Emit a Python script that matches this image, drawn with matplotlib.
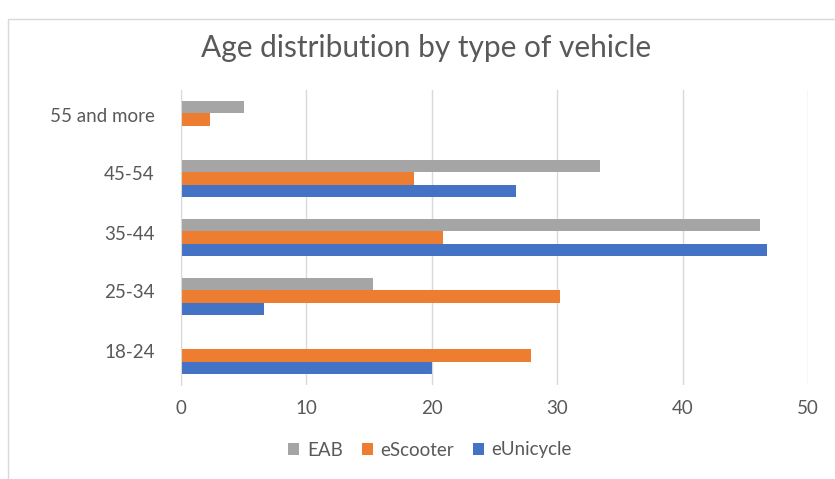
import matplotlib.pyplot as plt
import matplotlib.transforms as mtransforms
import numpy as np
from matplotlib.patches import Rectangle

# Age groups (bottom to top) and the share per vehicle type
age_groups = ['18-24', '25-34', '35-44', '45-54', '55 and more']
eab = [0, 15.3, 46.2, 33.4, 5.0]
escooter = [27.9, 30.2, 20.9, 18.6, 2.3]
eunicycle = [20.0, 6.6, 46.7, 26.7, 0]

grey = '#a5a5a5'
orange = '#ed7d31'
blue = '#4472c4'
text_col = '#595959'

plt.rcParams['font.family'] = ['Lato', 'DejaVu Sans']

fig = plt.figure(figsize=(8.35, 4.79), dpi=100)
ax = fig.add_axes([181 / 835, 1 - 385 / 479, 627 / 835, 295 / 479])

# light chart border like the Excel chart area
fig.patches.append(Rectangle((8 / 835, -0.01), 1.0, (479 - 19) / 479 + 0.01,
                             transform=fig.transFigure, fill=False,
                             edgecolor='#d9d9d9', linewidth=1))

y = np.arange(len(age_groups))
h = 0.21
ax.barh(y - h, eunicycle, height=h, color=blue, label='eUnicycle')
ax.barh(y, escooter, height=h, color=orange, label='eScooter')
ax.barh(y + h, eab, height=h, color=grey, label='EAB')

ax.set_xlim(0, 50)
ax.set_ylim(-0.5, len(age_groups) - 0.5)
ax.set_xticks(range(0, 51, 10))
ax.set_yticks(y)
ax.set_yticklabels(age_groups)
ax.tick_params(axis='both', length=0, labelsize=13.5, colors=text_col)
ax.tick_params(axis='x', pad=11)
ax.tick_params(axis='y', pad=19)

# category labels sit a little above the group centre in the original
shift = mtransforms.ScaledTranslation(0, 5 / 100, fig.dpi_scale_trans)
for lbl in ax.get_yticklabels():
    lbl.set_transform(lbl.get_transform() + shift)

ax.grid(axis='x', color='#d9d9d9', linewidth=1)
ax.set_axisbelow(True)
for side in ['top', 'right', 'bottom']:
    ax.spines[side].set_visible(False)
ax.spines['left'].set_color('#d9d9d9')

fig.text(426 / 835, 1 - 48 / 479, 'Age distribution by type of vehicle',
         ha='center', va='center', fontsize=21.5, color=text_col)

handles, labels = ax.get_legend_handles_labels()
fig.legend(handles[::-1], labels[::-1], loc='center', ncol=3,
           bbox_to_anchor=(430 / 835, 1 - 450 / 479), frameon=False,
           fontsize=13.5, labelcolor=text_col, handlelength=0.6,
           handleheight=0.6, handletextpad=0.4, columnspacing=1.0)

plt.savefig('out.png', dpi=100)
